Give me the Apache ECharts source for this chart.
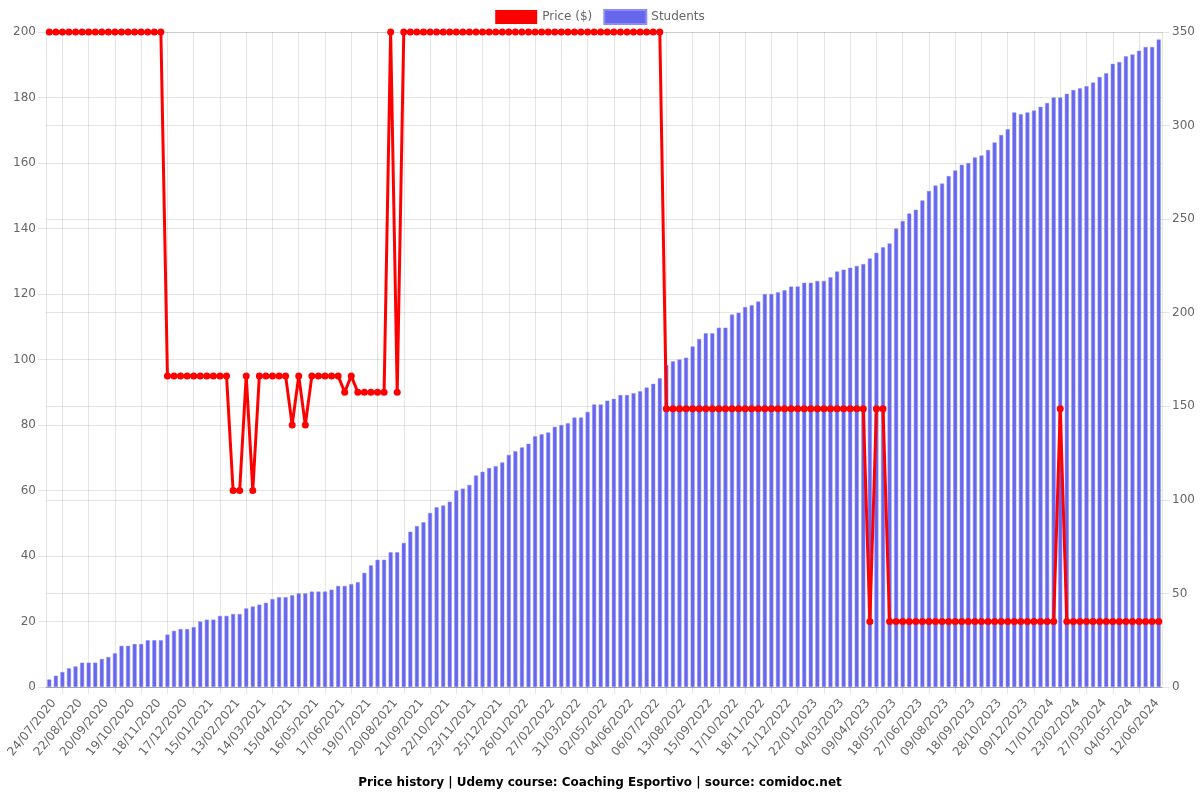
<!DOCTYPE html>
<html>
<head>
<meta charset="utf-8">
<script src="https://cdn.jsdelivr.net/npm/echarts@6/dist/echarts.min.js"></script>
<style>
html,body{margin:0;padding:0;background:#ffffff;}
#chart{width:1200px;height:800px;}
</style>
</head>
<body>
<div id="chart"></div>
<script>
// Visible x-axis tick labels (one every 4 categories)
const tickLabels = [
  '24/07/2020','22/08/2020','20/09/2020','19/10/2020','18/11/2020','17/12/2020',
  '15/01/2021','13/02/2021','14/03/2021','15/04/2021','16/05/2021','17/06/2021',
  '19/07/2021','20/08/2021','21/09/2021','22/10/2021','23/11/2021','25/12/2021',
  '26/01/2022','27/02/2022','31/03/2022','02/05/2022','04/06/2022','06/07/2022',
  '13/08/2022','15/09/2022','17/10/2022','18/11/2022','21/12/2022','22/01/2023',
  '04/03/2023','09/04/2023','18/05/2023','27/06/2023','09/08/2023','18/09/2023',
  '28/10/2023','09/12/2023','17/01/2024','23/02/2024','27/03/2024','04/05/2024',
  '12/06/2024'
];

// Price ($) per snapshot
const prices = [
  200,200,200,200,200,200,200,200,200,200,200,200,200,200,200,200,200,200,
  95,95,95,95,95,95,95,95,95,95,
  60,60,95,60,
  95,95,95,95,95,
  80,95,80,
  95,95,95,95,95,
  90,95,
  90,90,90,90,90,
  200,90,
  200,200,200,200,200,200,200,200,200,200,200,200,200,200,200,200,200,200,200,200,
  200,200,200,200,200,200,200,200,200,200,200,200,200,200,200,200,200,200,200,200,
  85,85,85,85,85,85,85,85,85,85,85,85,85,85,85,85,85,85,85,85,85,85,85,85,85,85,85,85,85,85,85,
  20,85,85,
  20,20,20,20,20,20,20,20,20,20,20,20,20,20,20,20,20,20,20,20,20,20,20,20,20,20,
  85,
  20,20,20,20,20,20,20,20,20,20,20,20,20,20,20
];

// Students per snapshot
const students = [
  4,6,8,10,11,13,13,13,15,16,18,22,22,23,23,25,25,25,28,30,
  31,31,32,35,36,36,38,38,39,39,42,43,44,45,47,48,48,49,50,50,
  51,51,51,52,54,54,55,56,61,65,68,68,72,72,
  77,83,86,88,93,96,97,99,
  105,106,108,113,115,117,118,120,124,126,128,130,134,135,136,139,140,141,144,144,
  147,151,151,153,154,156,156,157,158,160,162,165,172,174,175,176,182,186,189,189,
  192,192,199,200,203,204,206,210,210,211,212,214,214,
  216,216,217,217,219,222,223,224,225,226,229,232,
  235,237,245,249,253,255,260,265,268,269,273,276,279,280,283,284,287,291,295,298,
  307,306,307,308,310,312,315,315,317,319,320,321,323,326,328,333,334,337,338,340,
  342,342,346
];

const LABEL_EVERY = 4;
const categories = prices.map(function (_, i) {
  return (i % LABEL_EVERY === 0 && tickLabels[i / LABEL_EVERY]) ? tickLabels[i / LABEL_EVERY] : '';
});

const gridColor = 'rgba(0,0,0,0.1)';
const font = 'DejaVu Sans';
const chart = echarts.init(document.getElementById('chart'), null, {renderer: 'canvas'});

chart.setOption({
  animation: false,
  backgroundColor: '#ffffff',
  textStyle: {fontFamily: font},
  title: {
    text: 'Price history | Udemy course: Coaching Esportivo | source: comidoc.net',
    left: 'center',
    top: 777,
    padding: 0,
    textStyle: {fontFamily: font, fontSize: 12, fontWeight: 'bold', color: '#000000'}
  },
  legend: {
    top: 9,
    left: 'center',
    padding: 0,
    itemWidth: 42,
    itemHeight: 14,
    itemGap: 11,
    icon: 'rect',
    data: ['Price ($)', 'Students'],
    textStyle: {fontFamily: font, fontSize: 12, color: '#666666'}
  },
  grid: {left: 46, right: 38, top: 32, bottom: 113, containLabel: false, outerBoundsMode: 'none'},
  xAxis: {
    type: 'category',
    data: categories,
    boundaryGap: true,
    axisLine: {show: true, lineStyle: {color: 'rgba(0,0,0,0.2)', width: 1}},
    axisTick: {
      show: true, length: 7, alignWithLabel: true,
      interval: function (i) { return i % LABEL_EVERY === 2; },
      lineStyle: {color: gridColor}
    },
    splitLine: {
      show: true, alignWithLabel: true,
      interval: function (i) { return i % LABEL_EVERY === 2; },
      lineStyle: {color: gridColor, width: 1}
    },
    axisLabel: {
      interval: LABEL_EVERY - 1,
      rotate: 51,
      margin: 10,
      verticalAlign: 'top',
      fontFamily: font,
      fontSize: 12,
      color: '#666666'
    }
  },
  yAxis: [
    {
      type: 'value', position: 'left', min: 0, max: 200, interval: 20,
      axisLine: {show: true, lineStyle: {color: gridColor}},
      axisTick: {show: true, length: 8, lineStyle: {color: gridColor}},
      splitLine: {show: true, lineStyle: {color: gridColor}},
      axisLabel: {margin: 10, fontFamily: font, fontSize: 12, color: '#666666'}
    },
    {
      type: 'value', position: 'right', min: 0, max: 350, interval: 50,
      axisLine: {show: true, lineStyle: {color: gridColor}},
      axisTick: {show: true, length: 8, lineStyle: {color: gridColor}},
      splitLine: {show: true, lineStyle: {color: gridColor}},
      axisLabel: {margin: 10, fontFamily: font, fontSize: 12, color: '#666666'}
    }
  ],
  series: [
    {
      name: 'Price ($)',
      type: 'line',
      yAxisIndex: 0,
      data: prices,
      z: 5,
      symbol: 'circle',
      symbolSize: 7,
      showSymbol: true,
      showAllSymbol: true,
      lineStyle: {color: '#ff0000', width: 3},
      itemStyle: {color: '#ff0000', borderColor: '#ff0000', borderWidth: 0}
    },
    {
      name: 'Students',
      type: 'bar',
      yAxisIndex: 1,
      data: students,
      z: 2,
      barWidth: 4,
      itemStyle: {color: '#6767ee', borderColor: 'rgba(140,140,245,1)', borderWidth: 0.5}
    }
  ]
});
</script>
</body>
</html>
